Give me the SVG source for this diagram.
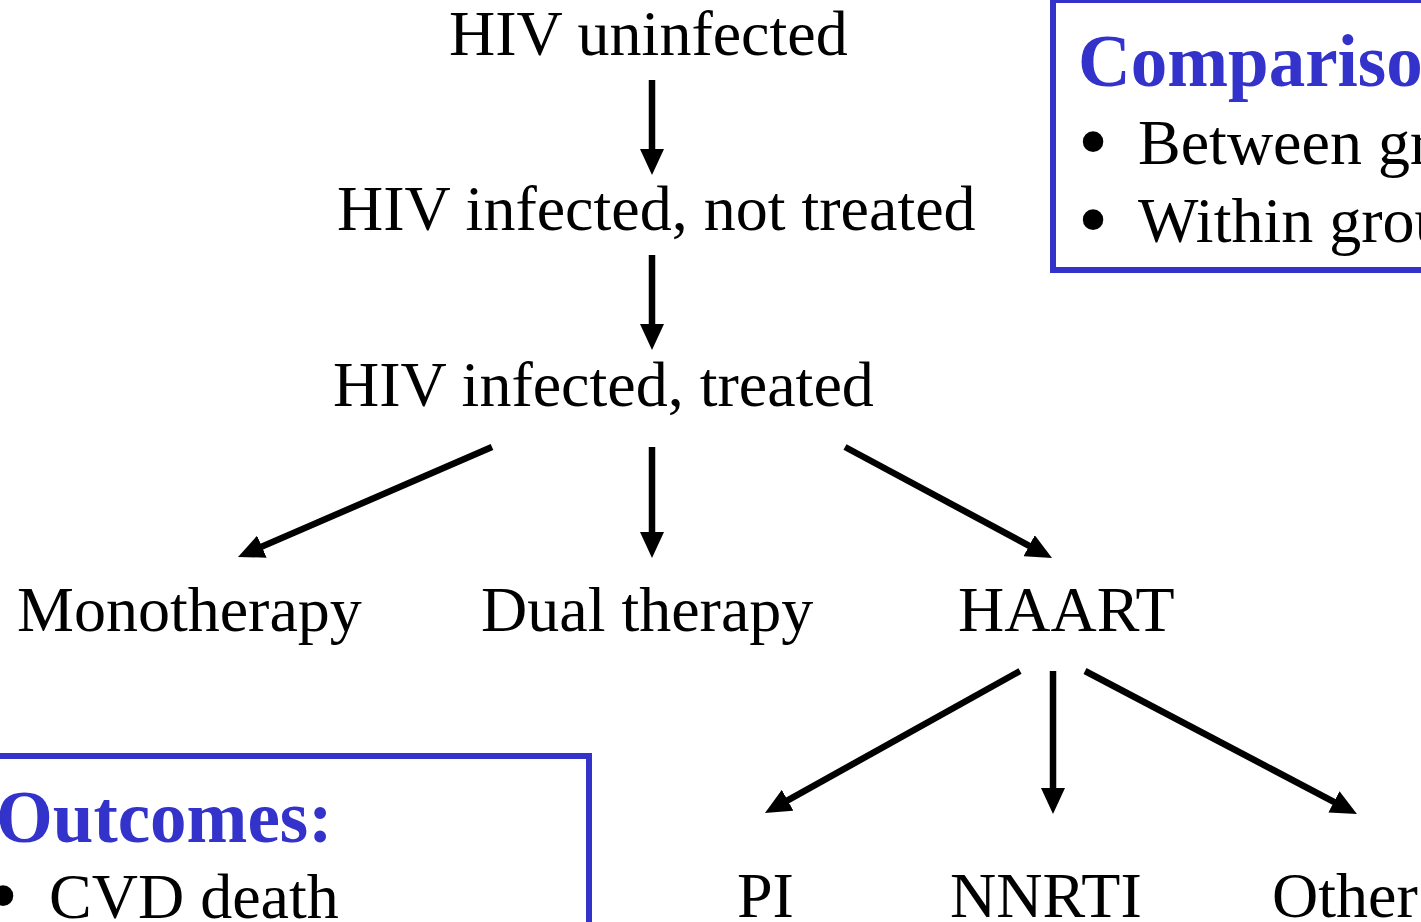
<svg xmlns="http://www.w3.org/2000/svg" width="1421" height="922" viewBox="0 0 1421 922">
<style>
.t{font-family:"Liberation Serif","Times New Roman",serif;font-size:64px;fill:#000}
.b{font-family:"Liberation Serif","Times New Roman",serif;font-size:86px;fill:#000}
.h{font-family:"Liberation Serif","Times New Roman",serif;font-size:73px;font-weight:bold;fill:#3333cc}
.box{fill:none;stroke:#3333cc;stroke-width:6}
.c{stroke:#000;stroke-width:6.5;fill:none;marker-end:url(#ah)}
</style>
<defs>
<marker id="ah" markerUnits="userSpaceOnUse" markerWidth="26" markerHeight="24" refX="16" refY="12" orient="auto" viewBox="0 0 26 24">
<path d="M0,0 L26,12 L0,24 z" fill="#000"/>
</marker>
</defs>
<rect width="1421" height="922" fill="#fff"/>
<g id="connectors">
<line class="c" x1="652" y1="80" x2="652" y2="165"/>
<line class="c" x1="652" y1="255" x2="652" y2="340"/>
<line class="c" x1="492" y1="447" x2="247.2" y2="553"/>
<line class="c" x1="652" y1="447" x2="652" y2="548"/>
<line class="c" x1="845" y1="447" x2="1043.2" y2="553.3"/>
<line class="c" x1="1020" y1="671" x2="773.7" y2="808.1"/>
<line class="c" x1="1053" y1="671" x2="1053" y2="804"/>
<line class="c" x1="1085" y1="671" x2="1348.1" y2="809.3"/>
</g>
<g id="n-uninfected"><text class="t" x="449" y="55">HIV uninfected</text></g>
<g id="n-not-treated"><text class="t" x="337" y="230">HIV infected, not treated</text></g>
<g id="n-treated"><text class="t" x="333" y="406">HIV infected, treated</text></g>
<g id="n-mono"><text class="t" x="17" y="631">Monotherapy</text></g>
<g id="n-dual"><text class="t" x="481" y="631">Dual therapy</text></g>
<g id="n-haart"><text class="t" x="958" y="631">HAART</text></g>
<g id="n-pi"><text class="t" x="737" y="917">PI</text></g>
<g id="n-nnrti"><text class="t" x="950" y="917">NNRTI</text></g>
<g id="n-other"><text class="t" x="1272" y="917">Other</text></g>
<g id="comparison">
<rect class="box" x="1053" y="0" width="420" height="270"/>
<text class="h" x="1078" y="86">Comparisons:</text>
<text class="b" x="1078" y="170">•</text>
<text class="t" x="1138" y="164">Between groups</text>
<text class="b" x="1078" y="248">•</text>
<text class="t" x="1138" y="242">Within groups</text>
</g>
<g id="outcomes">
<rect class="box" x="-10" y="756" width="599" height="300"/>
<text class="h" x="-4" y="842">Outcomes:</text>
<text class="b" x="-12" y="924">•</text>
<text class="t" x="49" y="918">CVD death</text>
</g>
</svg>
